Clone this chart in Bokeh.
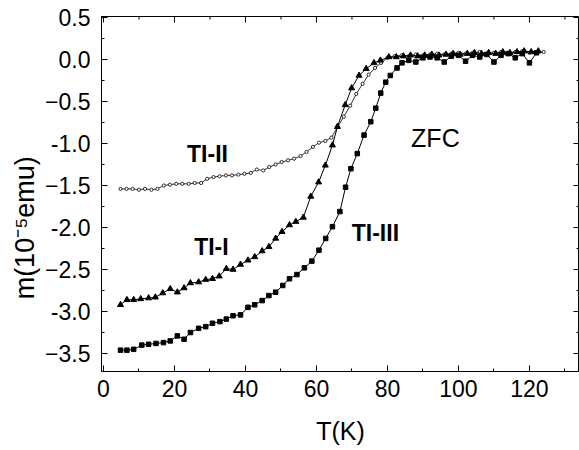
import math
from bokeh.plotting import figure
from bokeh.models import Label, Range1d, FixedTicker
from bokeh.embed import file_html
from bokeh.resources import INLINE

# ---- data ----
T_I = [4.8,6.6,8.5,10.5,12.7,14.6,16.7,18.8,20.8,22.7,
       24.5,26.8,28.8,30.7,32.6,34.6,36.5,38.6,40.7,42.6,
       44.7,46.6,48.5,50.3,52.4,54.2,56.3,58.4,60.6,62.5,
       64.5,65.9,68.1,69.9,72.0,74.0,76.2,78.0,80.4,
       82.5,84.5,86.5,88.5,90.5,92.5,94.5,96.5,98.5,100.5,
       102.5,104.5,106.5,108.5,110.5,112.5,114.5,116.5,118.5,120.5,122.5]
M_I = [-2.92,-2.86,-2.86,-2.85,-2.84,-2.83,-2.78,-2.73,-2.77,-2.72,
       -2.66,-2.65,-2.62,-2.61,-2.58,-2.49,-2.50,-2.44,-2.39,-2.35,
       -2.28,-2.23,-2.13,-2.05,-1.97,-1.93,-1.88,-1.63,-1.46,-1.26,
       -1.02,-0.80,-0.54,-0.34,-0.19,-0.11,-0.04,-0.01,0.03,
       0.03,0.04,0.05,0.04,0.05,0.06,0.05,0.06,0.07,0.06,
       0.07,0.08,0.07,0.08,0.07,0.09,0.08,0.09,0.10,0.09,0.10]

T_II = [4.8,6.5,8.2,10.0,11.7,13.5,15.2,17.0,18.7,20.5,
        22.2,24.0,25.7,27.5,29.2,31.0,32.7,34.5,36.2,38.0,
        39.7,41.5,43.2,45.0,46.7,48.5,50.2,52.0,53.7,55.5,
        57.2,59.0,60.7,62.5,64.2,66.0,67.7,69.5,71.2,73.0,
        74.7,76.5,78.2,80.0,
        82,84,86,88,90,92,94,96,98,100,102,104,106,108,110,112,114,116,118,120,122,124]
M_II = [-1.54,-1.54,-1.54,-1.55,-1.54,-1.55,-1.54,-1.50,-1.49,-1.48,
        -1.48,-1.48,-1.47,-1.47,-1.42,-1.40,-1.39,-1.38,-1.38,-1.37,
        -1.36,-1.35,-1.31,-1.32,-1.28,-1.25,-1.22,-1.20,-1.18,-1.15,
        -1.10,-1.04,-0.99,-0.97,-0.93,-0.80,-0.68,-0.55,-0.41,-0.29,
        -0.18,-0.10,-0.04,0.02,
        0.04,0.05,0.04,0.06,0.05,0.06,0.07,0.06,0.07,0.08,
        0.07,0.08,0.09,0.07,0.08,0.09,0.08,0.09,0.10,0.08,0.09,0.09]

T_III = [4.8,6.6,8.5,10.8,12.7,14.8,16.9,18.8,20.8,22.7,
         24.5,26.8,28.8,30.7,32.8,34.6,36.5,38.6,40.7,42.6,
         44.7,46.6,48.5,50.5,52.4,54.5,56.6,58.7,60.7,62.6,
         64.5,66.6,68.2,69.7,71.5,73.4,75.3,76.7,78.1,79.5,
         80.8,82.7,84.1,
         86,88,90,92,94,96,98,100,102,104,106,108,110,112,114,116,118,120,122]
M_III = [-3.46,-3.46,-3.45,-3.40,-3.39,-3.38,-3.37,-3.35,-3.29,-3.33,
         -3.25,-3.20,-3.18,-3.14,-3.12,-3.09,-3.05,-3.04,-2.95,-2.92,
         -2.87,-2.81,-2.77,-2.69,-2.61,-2.56,-2.48,-2.40,-2.27,-2.13,
         -1.99,-1.81,-1.52,-1.30,-1.12,-0.90,-0.74,-0.58,-0.40,-0.27,
         -0.19,-0.10,-0.04,
         -0.01,-0.03,0.02,0.03,0.02,-0.03,0.04,0.05,-0.02,0.05,
         0.03,0.06,-0.03,0.05,0.07,0.02,0.07,-0.04,0.08]

X_TICKS = [0, 20, 40, 60, 80, 100, 120]
Y_TICKS = [0.5, 0.0, -0.5, -1.0, -1.5, -2.0, -2.5, -3.0, -3.5]
X_MINOR = [10, 30, 50, 70, 90, 110, 130]
Y_MINOR = [0.25, -0.25, -0.75, -1.25, -1.75, -2.25, -2.75, -3.25]

FONT = "Liberation Sans"
X0, X1 = -0.56, 134.1
Y0, Y1 = -3.714, 0.512

p = figure(width=579, height=450, output_backend="svg", toolbar_location=None,
           x_range=Range1d(X0, X1), y_range=Range1d(Y0, Y1),
           min_border_left=101, min_border_right=0, min_border_top=16, min_border_bottom=79,
           background_fill_color="white", border_fill_color="white")
p.grid.visible = False
p.outline_line_color = "black"
p.outline_line_width = 1

def style_axis(ax):
    ax.axis_line_color = "black"
    ax.major_tick_in = 6
    ax.major_tick_out = 0
    ax.minor_tick_in = 3
    ax.minor_tick_out = 0
    ax.major_tick_line_color = "black"
    ax.minor_tick_line_color = "black"
    ax.major_label_text_font = FONT
    ax.major_label_text_color = "black"
    ax.major_label_text_font_size = "23px"

xa = p.xaxis[0]
xa.ticker = FixedTicker(ticks=X_TICKS, minor_ticks=X_MINOR)
style_axis(xa)
xa.major_label_standoff = 8
xa.axis_label = "T(K)"
xa.axis_label_text_font = FONT
xa.axis_label_text_font_size = "25px"
xa.axis_label_text_font_style = "normal"
xa.axis_label_text_color = "black"
xa.axis_label_standoff = 17

ya = p.yaxis[0]
ya.ticker = FixedTicker(ticks=Y_TICKS, minor_ticks=Y_MINOR)
style_axis(ya)
ya.major_label_standoff = 11
ya.major_label_overrides = {0.0: "0.0", -1.0: "-1.0", -2.0: "-2.0", -3.0: "-3.0"}
# trailing no-break spaces push the visible title lower, as in the original
ya.axis_label = "m(10\u207b\u2075emu)" + "\u00a0" * 9
ya.axis_label_text_font = FONT
ya.axis_label_text_font_size = "27px"
ya.axis_label_text_font_style = "normal"
ya.axis_label_text_color = "black"
ya.axis_label_standoff = 2

# inward ticks on the top and right frame edges (clipped by the frame)
p.scatter(X_TICKS, [Y1] * len(X_TICKS), marker="dash", angle=math.pi / 2, size=12,
          line_color="black", line_width=1)
p.scatter(X_MINOR, [Y1] * len(X_MINOR), marker="dash", angle=math.pi / 2, size=6,
          line_color="black", line_width=1)
p.scatter([X1] * len(Y_TICKS), Y_TICKS, marker="dash", size=12, line_color="black", line_width=1)
p.scatter([X1] * len(Y_MINOR), Y_MINOR, marker="dash", size=6, line_color="black", line_width=1)

# curves
p.line(T_II, M_II, line_color="black", line_width=0.8)
p.scatter(T_II, M_II, marker="circle", size=3.2, line_color="black", fill_color="white", line_width=0.8)

p.line(T_I, M_I, line_color="black", line_width=1)
p.scatter(T_I, M_I, marker="triangle", size=6, line_color="black", fill_color="black")

p.line(T_III, M_III, line_color="black", line_width=1)
p.scatter(T_III, M_III, marker="square", size=4.5, line_color="black", fill_color="black")

def lab(x, y, t, size, bold):
    p.add_layout(Label(x=x, y=y, text=t, text_font=FONT, text_font_size=size,
                       text_font_style="bold" if bold else "normal",
                       text_align="center", text_baseline="middle", text_color="black"))

lab(29.3, -1.12, "TI-II", "23px", True)
lab(30.4, -2.23, "TI-I", "23px", True)
lab(76.6, -2.07, "TI-III", "23px", True)
lab(93.5, -0.93, "ZFC", "25px", False)

open("out.html", "w").write(file_html(p, INLINE))
